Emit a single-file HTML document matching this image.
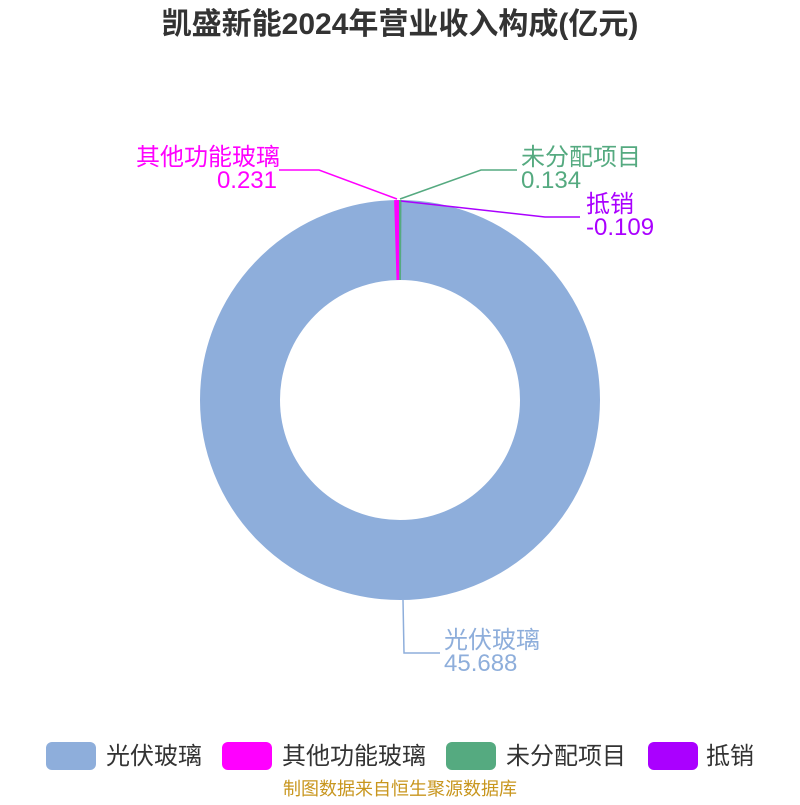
<!DOCTYPE html>
<html><head><meta charset="utf-8"><style>
body{margin:0;background:#fff;}
svg text{font-family:"Liberation Sans","Noto Sans CJK SC",sans-serif;}
</style></head><body>
<svg width="800" height="800" viewBox="0 0 800 800" xmlns="http://www.w3.org/2000/svg">
<rect width="800" height="800" fill="#fff"/>
<text x="400" y="34" text-anchor="middle" font-size="30" font-weight="bold" fill="#333">凯盛新能2024年营业收入构成(亿元)</text>
<circle cx="400" cy="400" r="160" fill="none" stroke="#8eaedb" stroke-width="80"/>
<path d="M394.1,200.1 A200,200 0 0 1 399,200 L399.3,280 A120,120 0 0 0 396.5,280 Z" fill="#ff00ff"/>
<path d="M399,200 A200,200 0 0 1 401.5,200 L401,280 L399.3,280 Z" fill="#55aa80"/>
<polyline points="397,199 319,170 279,170" stroke="#ff00ff" stroke-width="1.5" fill="none"/>
<polyline points="400,199 481,170 517,170" stroke="#55aa80" stroke-width="1.5" fill="none"/>
<polyline points="401,201 545,217 580,217" stroke="#aa00ff" stroke-width="1.5" fill="none"/>
<polyline points="403,600 404,653 440,653" stroke="#8eaedb" stroke-width="1.5" fill="none"/>
<text x="280" y="165" text-anchor="end" font-size="24" fill="#ff00ff">其他功能玻璃</text>
<text x="277" y="188" text-anchor="end" font-size="24" fill="#ff00ff">0.231</text>
<text x="521" y="165" font-size="24" fill="#55aa80">未分配项目</text>
<text x="521" y="188" font-size="24" fill="#55aa80">0.134</text>
<text x="586" y="212" font-size="24" fill="#aa00ff">抵销</text>
<text x="586" y="235" font-size="24" fill="#aa00ff">-0.109</text>
<text x="444" y="648" font-size="24" fill="#8eaedb">光伏玻璃</text>
<text x="444" y="671" font-size="24" fill="#8eaedb">45.688</text>
<rect x="46" y="742" width="50" height="28" rx="6" fill="#8eaedb"/>
<text x="106" y="764" font-size="24" fill="#333">光伏玻璃</text>
<rect x="222" y="742" width="50" height="28" rx="6" fill="#ff00ff"/>
<text x="282" y="764" font-size="24" fill="#333">其他功能玻璃</text>
<rect x="446" y="742" width="50" height="28" rx="6" fill="#55aa80"/>
<text x="506" y="764" font-size="24" fill="#333">未分配项目</text>
<rect x="648" y="742" width="50" height="28" rx="6" fill="#aa00ff"/>
<text x="706" y="764" font-size="24" fill="#333">抵销</text>
<text x="400" y="795" text-anchor="middle" font-size="18" fill="#c8961e">制图数据来自恒生聚源数据库</text>
</svg>
</body></html>
